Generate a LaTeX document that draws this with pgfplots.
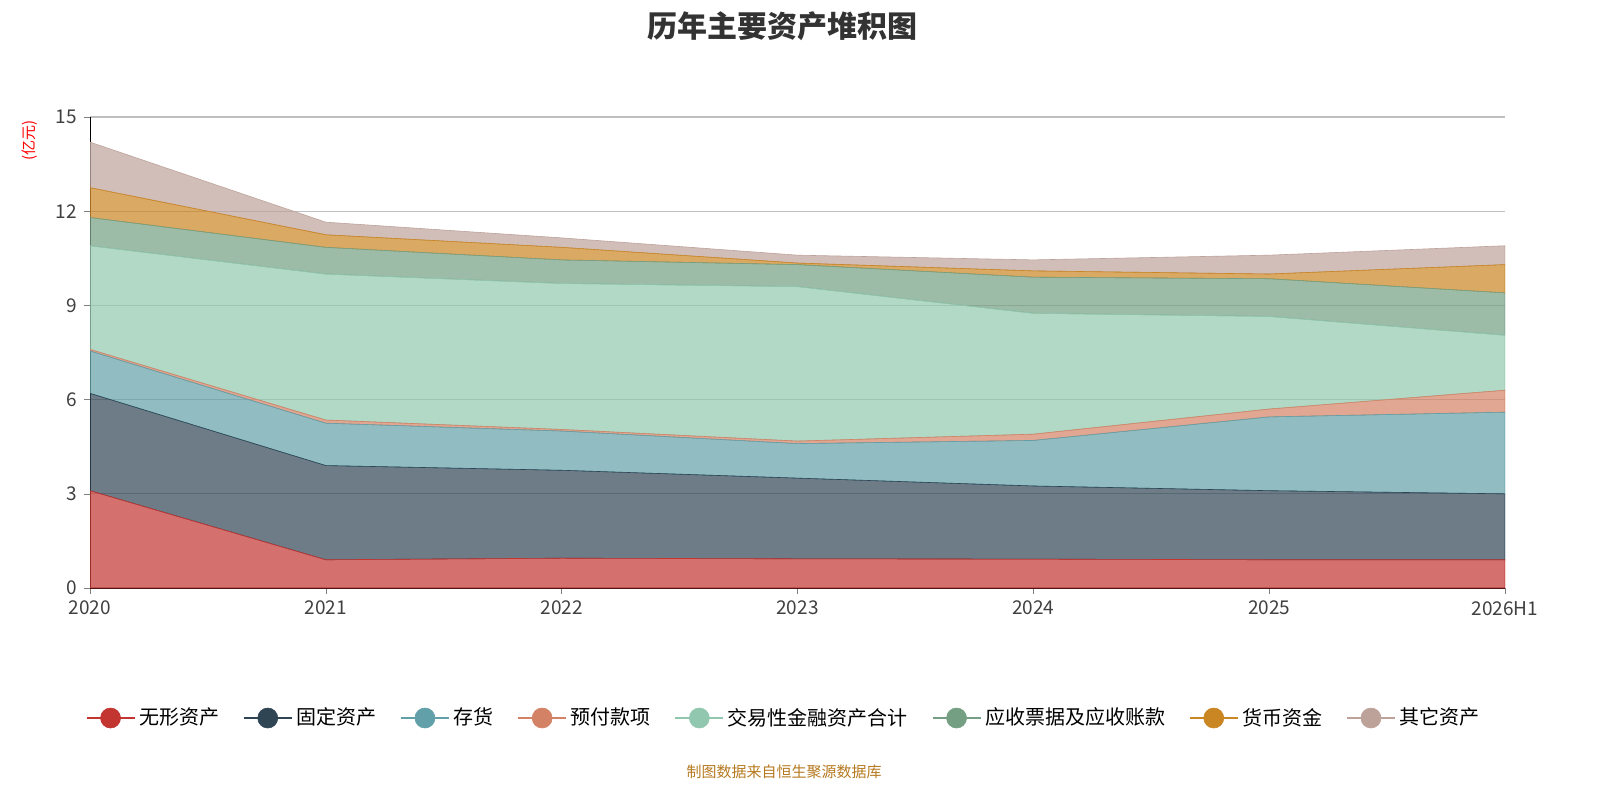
\documentclass[border=0pt]{standalone}
\usepackage{pgfplots}
\pgfplotsset{compat=1.18}
\usepackage{fontspec}
\setmainfont{Noto Sans CJK SC}
\definecolor{c1}{HTML}{C23531}
\definecolor{c2}{HTML}{2F4554}
\definecolor{c3}{HTML}{61A0A8}
\definecolor{c4}{HTML}{D48265}
\definecolor{c5}{HTML}{91C7AE}
\definecolor{c6}{HTML}{749F83}
\definecolor{c7}{HTML}{CA8622}
\definecolor{c8}{HTML}{BDA29A}
\begin{document}
\begin{tikzpicture}
\path[use as bounding box] (0,0) rectangle (800pt,-400pt);
\node[font=\fontsize{15}{17}\selectfont\bfseries, text=black!80] at (391pt,-13pt) {历年主要资产堆积图};
\node[rotate=90, text=red, font=\fontsize{7.5}{8}\selectfont] at (15pt,-70pt) {(亿元)};
\node[text=c7!90!black, font=\fontsize{7.5}{8}\selectfont] at (392pt,-386pt) {制图数据来自恒生聚源数据库};
\begin{axis}[at={(45pt,-294pt)}, anchor=south west, scale only axis,
 width=707.5pt, height=235.5pt,
 xmin=0, xmax=6, ymin=0, ymax=15,
 xtick={0,...,6}, xticklabels={2020,2021,2022,2023,2024,2025,2026H1},
 ytick={0,3,6,9,12,15},
 ymajorgrids, grid style={gray!50, line width=0.6pt},
 axis x line*=bottom, axis y line*=left,
 tick align=outside, major tick length=3pt,
 tick label style={font=\fontsize{9.5}{10}\selectfont, text=black!75},
 /pgf/number format/assume math mode=true,
 stack plots=y,
 every axis plot/.append style={fill opacity=0.7, line width=0.3pt},
 legend columns=8,
 legend style={at={(0.491,-0.276)}, anchor=center, draw=none, fill=none,
   font=\fontsize{10}{11}\selectfont, text opacity=1,
   /tikz/every even column/.append style={column sep=10pt}},
 legend image code/.code={\draw[line width=0.6pt, draw opacity=1] (0pt,0pt)--(24pt,0pt);
   \fill[fill opacity=1] (12pt,0pt) circle (5pt);},
]
\addplot[fill=c1, draw=c1] coordinates {(0,3.1)(1,0.9)(2,0.95)(3,0.93)(4,0.92)(5,0.9)(6,0.9)} \closedcycle;
\addlegendentry{无形资产}
\addplot[fill=c2, draw=c2] coordinates {(0,3.1)(1,3.0)(2,2.8)(3,2.57)(4,2.33)(5,2.2)(6,2.1)} \closedcycle;
\addlegendentry{固定资产}
\addplot[fill=c3, draw=c3] coordinates {(0,1.35)(1,1.35)(2,1.25)(3,1.1)(4,1.45)(5,2.35)(6,2.6)} \closedcycle;
\addlegendentry{存货}
\addplot[fill=c4, draw=c4] coordinates {(0,0.05)(1,0.1)(2,0.05)(3,0.08)(4,0.2)(5,0.25)(6,0.7)} \closedcycle;
\addlegendentry{预付款项}
\addplot[fill=c5, draw=c5] coordinates {(0,3.3)(1,4.65)(2,4.65)(3,4.92)(4,3.85)(5,2.95)(6,1.75)} \closedcycle;
\addlegendentry{交易性金融资产合计}
\addplot[fill=c6, draw=c6] coordinates {(0,0.9)(1,0.85)(2,0.75)(3,0.7)(4,1.15)(5,1.2)(6,1.35)} \closedcycle;
\addlegendentry{应收票据及应收账款}
\addplot[fill=c7, draw=c7] coordinates {(0,0.95)(1,0.4)(2,0.4)(3,0.05)(4,0.2)(5,0.15)(6,0.9)} \closedcycle;
\addlegendentry{货币资金}
\addplot[fill=c8, draw=c8] coordinates {(0,1.45)(1,0.4)(2,0.3)(3,0.25)(4,0.35)(5,0.6)(6,0.6)} \closedcycle;
\addlegendentry{其它资产}
\end{axis}
\end{tikzpicture}
\end{document}
